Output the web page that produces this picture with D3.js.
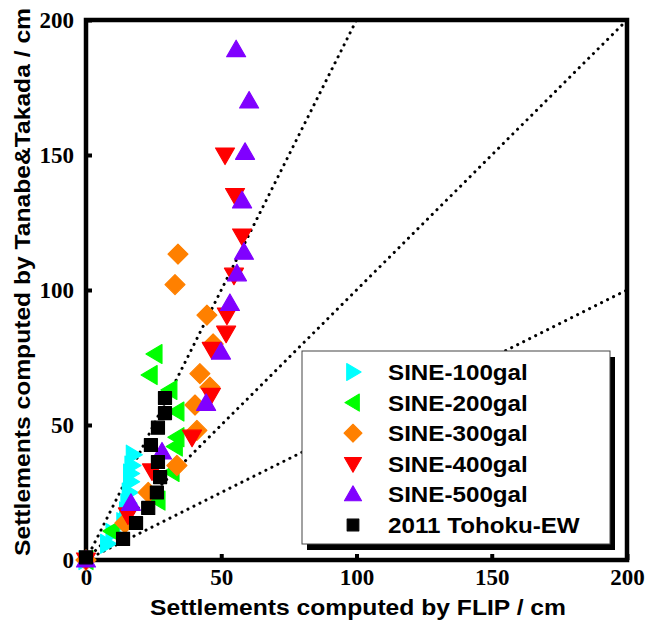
<!DOCTYPE html>
<html>
<head>
<meta charset="utf-8">
<script src="https://cdn.jsdelivr.net/npm/d3@7"></script>
<style>
  body { margin: 0; background: #fff; }
  svg { display: block; }
</style>
</head>
<body>
<div id="chart"></div>
<script>
// series names, as shown in the legend
var seriesNames = ["SINE-100gal", "SINE-200gal", "SINE-300gal", "SINE-400gal", "SINE-500gal", "2011 Tohoku-EW"];

// [FLIP, Tanabe&Takada] settlements in cm
var sine100 = [[0, 0], [8, 6], [10, 10], [14, 14], [15, 18], [15.5, 21], [16, 25], [16.5, 29], [16.5, 32], [17, 35], [17.5, 39]];
var sine200 = [[0, 0], [9.6, 10.7], [26.6, 22], [31.8, 32.6], [33, 42], [33.6, 45.5], [33.6, 55], [31, 63], [23.7, 68.5], [25.5, 76.3]];
var sine300 = [[0, 0], [14.4, 13.7], [23, 25], [33.6, 35], [41, 48], [40.3, 57.4], [45.8, 64], [42.1, 69], [47, 80], [44.7, 90.7], [32.9, 102], [34, 113.3]];
var sine400 = [[0, 0], [15.5, 16.7], [24.4, 33], [39.2, 45.5], [46.2, 61], [46.5, 78], [51.8, 84], [52.1, 90.7], [54.7, 105.5], [57.7, 120], [55.1, 135], [51.4, 150]];
var sine500 = [[0, 0], [16.6, 21], [28.1, 40], [44.4, 58], [49.9, 77], [53.2, 95], [55.8, 106], [58.4, 114], [57.7, 133], [58.8, 151], [60.3, 170], [55.5, 189]];
var tohoku = [[0, 1], [13.7, 7.8], [18.5, 13.7], [23, 19.3], [26.2, 25], [27.4, 30.7], [26.6, 36.3], [24, 42.6], [26.6, 49], [29.2, 54.4], [29.2, 60]];

var tickValues = [0, 50, 100, 150, 200];
var refSlopes = [2, 1, 0.5];

// styles for each series
var colors = ["#00ffff", "#00ff00", "#ff8000", "#ff0000", "#8000ff", "#000000"];
var shapes = ["right", "left", "diamond", "down", "up", "square"];
var allSeries = [sine100, sine200, sine300, sine400, sine500, tohoku];

var width = 648, height = 628;

var svg = d3.select("#chart").append("svg")
  .attr("width", width)
  .attr("height", height);

var x = d3.scaleLinear().domain([0, 200]).range([86, 627]);
var y = d3.scaleLinear().domain([0, 200]).range([560, 20]);

// marker outlines, centred on 0,0
function markerPath(shape) {
  if (shape == "right") return "M-7,-9.5L9,0L-7,9.5Z";
  if (shape == "left") return "M7,-9.5L-9,0L7,9.5Z";
  if (shape == "diamond") return "M0,-10L10,0L0,10L-10,0Z";
  if (shape == "down") return "M-9.5,-7L9.5,-7L0,9.5Z";
  if (shape == "up") return "M0,-9.5L9.5,7L-9.5,7Z";
  return "M-6.5,-6.5L6.5,-6.5L6.5,6.5L-6.5,6.5Z";
}

// dotted reference lines y = 2x, x, 0.5x
svg.selectAll(".ref")
  .data(refSlopes)
  .enter()
  .append("line")
  .attr("x1", x(0))
  .attr("y1", y(0))
  .attr("x2", function (s) { return x(Math.min(200, 200 / s)); })
  .attr("y2", function (s) { return y(s * Math.min(200, 200 / s)); })
  .style("stroke", "#000")
  .style("stroke-width", 3)
  .style("stroke-linecap", "round")
  .style("stroke-dasharray", "0.1 6.6");

// axes
var yAxis = d3.axisLeft(y).tickValues(tickValues).tickSize(-6).tickPadding(12);
var xAxis = d3.axisBottom(x).tickValues(tickValues).tickSize(-6).tickPadding(9);

var gy = svg.append("g").attr("transform", "translate(" + x(0) + ",0)").call(yAxis);
var gx = svg.append("g").attr("transform", "translate(0," + y(0) + ")").call(xAxis);

[gx, gy].forEach(function (g) {
  g.select(".domain").remove();
  g.selectAll(".tick line").style("stroke", "#000").style("stroke-width", 4);
  g.selectAll(".tick text")
    .style("font-family", "'Liberation Serif', 'Times New Roman', serif")
    .style("font-weight", "bold")
    .style("font-size", "23px")
    .style("fill", "#000");
});

// frame
svg.append("rect")
  .attr("x", x(0))
  .attr("y", y(200))
  .attr("width", x(200) - x(0))
  .attr("height", y(0) - y(200))
  .style("fill", "none")
  .style("stroke", "#000")
  .style("stroke-width", 4.5);

// legend box with drop shadow
var legend = svg.append("g");
legend.append("rect")
  .attr("x", 307).attr("y", 357).attr("width", 308).attr("height", 193)
  .style("fill", "#000");
legend.append("rect")
  .attr("x", 302).attr("y", 351).attr("width", 308).attr("height", 193)
  .style("fill", "#fff")
  .style("stroke", "#444")
  .style("stroke-width", 1);

var rows = legend.selectAll(".row")
  .data(seriesNames)
  .enter()
  .append("g")
  .attr("transform", function (d, i) { return "translate(0," + (372 + i * 30.6) + ")"; });

rows.append("path")
  .attr("d", function (d, i) { return markerPath(shapes[i]); })
  .attr("transform", "translate(353,0) scale(0.9)")
  .style("fill", function (d, i) { return colors[i]; })
  .style("stroke", function (d, i) { return colors[i]; })
  .style("stroke-width", 1.2)
  .style("stroke-linejoin", "round");

rows.append("text")
  .attr("transform", "translate(388,0) scale(1.1,1)")
  .attr("dy", "0.36em")
  .text(function (d) { return d; })
  .style("font-family", "'Liberation Sans', Arial, sans-serif")
  .style("font-weight", "bold")
  .style("font-size", "22px");

// data points
allSeries.forEach(function (data, i) {
  svg.append("g")
    .selectAll("path")
    .data(data)
    .enter()
    .append("path")
    .attr("d", markerPath(shapes[i]))
    .attr("transform", function (d) { return "translate(" + x(d[0]) + "," + y(d[1]) + ")"; })
    .style("fill", colors[i])
    .style("stroke", colors[i])
    .style("stroke-width", 1.2)
    .style("stroke-linejoin", "round");
});

// axis titles
svg.append("text")
  .attr("x", 358)
  .attr("y", 615)
  .attr("text-anchor", "middle")
  .attr("textLength", 416)
  .attr("lengthAdjust", "spacingAndGlyphs")
  .text("Settlements computed by FLIP / cm")
  .style("font-family", "'Liberation Sans', Arial, sans-serif")
  .style("font-weight", "bold")
  .style("font-size", "22px");

svg.append("text")
  .attr("transform", "translate(30,282) rotate(-90)")
  .attr("text-anchor", "middle")
  .attr("textLength", 548)
  .attr("lengthAdjust", "spacingAndGlyphs")
  .text("Settlements computed by Tanabe&Takada / cm")
  .style("font-family", "'Liberation Sans', Arial, sans-serif")
  .style("font-weight", "bold")
  .style("font-size", "22px");
</script>
</body>
</html>
